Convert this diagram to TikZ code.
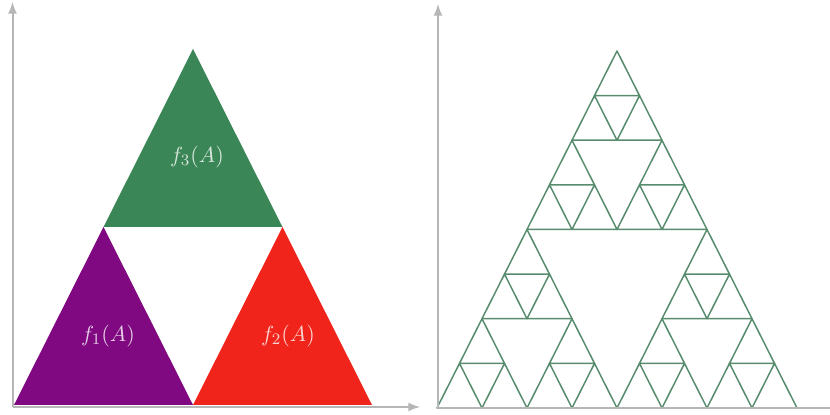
\documentclass[tikz,border=0pt]{standalone}
\usepackage{amsmath}
\usepackage{amssymb}
\usepackage{tikz}
\usetikzlibrary{arrows,calc}

\definecolor{fpurple}{RGB}{128,8,128}
\definecolor{fred}{RGB}{240,36,26}
\definecolor{fgreen}{RGB}{58,134,86}
\definecolor{sgreen}{RGB}{88,140,110}
\definecolor{axgray}{RGB}{182,182,182}

\begin{document}
\begin{tikzpicture}[x=0.5pt,y=0.5pt]
        %
        % `axis' is used for the grey axes.
        % `piece' is used for the filled images f_i(A).
        % `sier' is used for the outline of the fractal.
        \tikzstyle{axis} = [draw=axgray,line width=1pt,-latex]
        \tikzstyle{piece} = [draw=none]
        \tikzstyle{lbl} = [text=white,text opacity=0.8,font=\fontsize{11}{13}\selectfont]
        \tikzstyle{sier} = [draw=sgreen,line width=0.75pt,line join=round]
        \useasboundingbox (0,0) rectangle (830,415);
        %
        % Axes
        \coordinate (o1) at (12.5,8);
        \coordinate (y1) at (12.5,413);
        \coordinate (x1) at (420,8);
        \coordinate (o2) at (438,7);
        \coordinate (y2) at (438,411);
        \coordinate (x2) at (830,7);
        %
        % Left triangle
        \coordinate (a) at (14,10);
        \coordinate (b) at (372,10);
        \coordinate (c) at (193,366);
        \coordinate (ab) at ($(a)!0.5!(b)$);
        \coordinate (bc) at ($(b)!0.5!(c)$);
        \coordinate (ca) at ($(c)!0.5!(a)$);
        \fill[piece,fpurple] (a) -- (ab) -- (ca) -- cycle;
        \fill[piece,fred] (ab) -- (b) -- (bc) -- cycle;
        \fill[piece,fgreen] (ca) -- (bc) -- (c) -- cycle;
        \node[lbl] (f1) at (108,79) {$f_1(A)$};
        \node[lbl] (f2) at (288,79) {$f_2(A)$};
        \node[lbl] (f3) at (197,258) {$f_3(A)$};
        \draw[axis] (o1) -- (y1);
        \draw[axis] (o1) -- (x1);
        %
        % Right triangle, three levels
        \coordinate (r) at (437,7);
        \foreach \a/\b in {0/0,180/0,90/178.5}
          \foreach \c/\d in {0/0,90/0,45/89.25}
            \foreach \e/\f in {0/0,45/0,22.5/44.625}
              \draw[sier] ($(r)+(\a+\c+\e,\b+\d+\f)$) -- ++(45,0) -- ++(-22.5,44.625) -- cycle;
        \draw[axgray,line width=1pt] (o2) -- (x2);
        \draw[axis] (o2) -- (y2);
        %
    \end{tikzpicture}
\end{document}
